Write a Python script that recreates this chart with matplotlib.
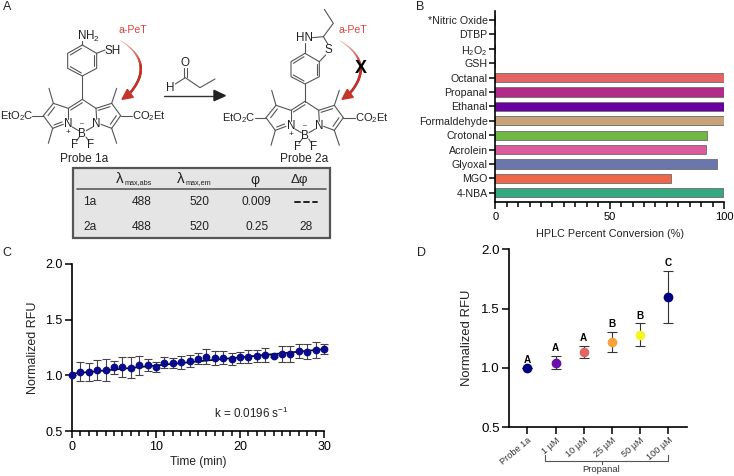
import numpy as np
import matplotlib
matplotlib.use('Agg')
import matplotlib.pyplot as plt
from matplotlib.patches import Polygon, Rectangle

plt.rcParams['font.family'] = ['Liberation Sans', 'DejaVu Sans']
plt.rcParams['mathtext.default'] = 'regular'

W, H = 734, 476

# panel B
analytes = ['*Nitric Oxide', 'DTBP', r'H$_2$O$_2$', 'GSH', 'Octanal', 'Propanal', 'Ethanal',
            'Formaldehyde', 'Crotonal', 'Acrolein', 'Glyoxal', 'MGO', '4-NBA']
conversion = [0, 0, 0, 0, 100, 100, 100, 100, 92.5, 92, 97, 77, 99.5]
bar_colors = ['k', 'k', 'k', 'k', '#e26464', '#b22a8a', '#6a009f', '#c9a377', '#6fb844',
              '#dd5a9e', '#6b76ad', '#ee6748', '#33a97f']

# panel C
time_min = list(range(31))
rfu_time = [1.0, 1.033, 1.033, 1.048, 1.048, 1.072, 1.075, 1.069, 1.09, 1.093, 1.078,
            1.114, 1.111, 1.117, 1.126, 1.15, 1.168, 1.156, 1.159, 1.147, 1.162,
            1.168, 1.177, 1.183, 1.171, 1.195, 1.192, 1.218, 1.213, 1.224, 1.24]
rfu_time_err = [0, .087, .08, .094, .095, .06, .093, .094, .084, .055, .046,
                .052, .048, .058, .054, .048, .07, .06, .057, .05, .05,
                .06, .055, .06, .01, .072, .07, .063, .068, .072, .045]
fit_x = [0, 30]
fit_y = [1.015, 1.235]

# panel D
dose_labels = ['Probe 1a', '1 µM', '10 µM', '25 µM', '50 µM', '100 µM']
rfu_dose = [1.0, 1.045, 1.135, 1.22, 1.28, 1.595]
rfu_dose_err = [0, .055, .05, .085, .095, .22]
dose_colors = ['#000080', '#6a0dad', '#e06666', '#f9a23c', '#f5f523', '#000080']
dose_letters = ['A', 'A', 'A', 'B', 'B', 'C']

# table in panel A
table_head = ['1a', '2a']
table_abs = ['488', '488']
table_em = ['520', '520']
table_phi = ['0.009', '0.25']
table_dphi = ['- - -', '28']

fig = plt.figure(figsize=(W / 100, H / 100), dpi=100)


def make_axes(x0, x1, y_top, y_bot):
    # pixel box -> figure fraction
    ax = fig.add_axes([x0 / W, 1 - y_bot / H, (x1 - x0) / W, (y_bot - y_top) / H])
    ax.patch.set_alpha(0)
    ax.spines['top'].set_visible(False)
    ax.spines['right'].set_visible(False)
    ax.spines['left'].set_linewidth(1.2)
    ax.spines['bottom'].set_linewidth(1.2)
    return ax


# panel B
axb = make_axes(495.3, 724, 11, 202)
axb.barh(range(len(analytes)), conversion, height=0.64, color=bar_colors, edgecolor='#777777', linewidth=0.7)
axb.set_xlim(0, 100)
axb.set_ylim(12.64, -0.62)
axb.set_yticks(range(len(analytes)))
axb.set_yticklabels(analytes, fontsize=7.7, color='#222222')
axb.set_xticks([0, 50, 100])
axb.set_xticks(range(0, 101, 5), minor=True)
axb.tick_params(axis='x', which='major', length=5, width=1.1, labelsize=8, pad=2)
axb.tick_params(axis='x', which='minor', length=3.5, width=1.1)
axb.tick_params(axis='y', length=4.5, width=1.1, pad=1)
axb.set_xlabel('HPLC Percent Conversion (%)', fontsize=7.8, labelpad=5, color='#222222')

# panel C
axc = make_axes(72, 324, 264, 431)
axc.plot(fit_x, fit_y, color='k', lw=1.2, zorder=2)
axc.errorbar(time_min, rfu_time, yerr=rfu_time_err, fmt='none', ecolor='#444444', elinewidth=0.8,
             capsize=2.6, capthick=0.8, zorder=3, clip_on=False)
axc.plot(time_min, rfu_time, 'o', color='#0a0a8c', ms=4.6, zorder=4, clip_on=False)
axc.set_xlim(0, 30)
axc.set_ylim(0.5, 2.0)
axc.set_xticks([0, 10, 20, 30])
axc.set_xticks(range(31), minor=True)
axc.set_yticks([0.5, 1.0, 1.5, 2.0])
axc.set_yticklabels(['0.5', '1.0', '1.5', '2.0'])
axc.tick_params(axis='both', which='major', length=5, width=1.1, labelsize=9, pad=2)
axc.tick_params(axis='x', which='minor', length=3.5, width=1.1)
axc.set_xlabel('Time (min)', fontsize=8.6, labelpad=2, color='#222222')
axc.set_ylabel('Normalized RFU', fontsize=9, labelpad=4, color='#222222')
axc.text(21.4, 0.66, 'k = 0.0196 s$^{-1}$', fontsize=8.4, ha='center', va='center', color='#222222')

# panel D
axd = make_axes(508.7, 687.3, 249.3, 427.3)
pos = list(range(len(dose_labels)))
for i in pos:
    axd.errorbar(pos[i], rfu_dose[i], yerr=rfu_dose_err[i], fmt='none', ecolor='#333333', elinewidth=0.8,
                 capsize=3.6, capthick=0.8, zorder=2)
    axd.plot(pos[i], rfu_dose[i], 'o', color=dose_colors[i], ms=6, zorder=3)
    axd.annotate(dose_letters[i], (pos[i], rfu_dose[i] + rfu_dose_err[i]), xytext=(0, 2),
                 textcoords='offset points', ha='center', va='bottom', fontsize=7.2, fontweight='bold')
axd.set_xlim(-0.66, 5.67)
axd.set_ylim(0.5, 2.0)
axd.set_xticks(pos)
axd.set_xticklabels(dose_labels, rotation=40, ha='right', rotation_mode='anchor', fontsize=6.6, color='#333333')
axd.set_yticks([0.5, 1.0, 1.5, 2.0])
axd.set_yticklabels(['0.5', '1.0', '1.5', '2.0'])
axd.tick_params(axis='x', length=5, width=1.1, pad=1)
axd.tick_params(axis='y', length=5, width=1.1, labelsize=9.6, pad=1.5)
axd.set_ylabel('Normalized RFU', fontsize=9.4, labelpad=6, color='#222222')

# overlay in pixels for the scheme, panel letters and bracket
ov = fig.add_axes([0, 0, 1, 1])
ov.set_xlim(0, W)
ov.set_ylim(H, 0)
ov.axis('off')
ov.patch.set_alpha(0)

for s, x, y in [('A', 7, 7), ('B', 420, 7), ('C', 7, 253), ('D', 421, 253)]:
    ov.text(x, y, s, fontsize=9, ha='center', va='center', color='#222222')

# bracket under the doses
ov.plot([545, 545, 667.5, 667.5], [455, 461, 461, 455], color='#555555', lw=0.8)
ov.plot([601.7, 601.7], [461, 464], color='#555555', lw=0.8)
ov.text(601.5, 470, 'Propanal', fontsize=6.8, ha='center', va='center', color='#333333')


# structures are read in the 3x zoom coordinates
def bond(pts, dx=0, dy=0, color='#555555', lw=0.8):
    xs = [(p[0] + dx) / 3 for p in pts]
    ys = [(p[1] + dy) / 3 for p in pts]
    ov.plot(xs, ys, color=color, lw=lw, solid_capstyle='round', zorder=3)


def label(x, y, s, dx=0, dy=0, size=8.4, color='#222222', **kw):
    ov.text((x + dx) / 3, (y + dy) / 3, s, fontsize=size, color=color, ha='center', va='center', zorder=4, **kw)


def core(dx, dy):
    segs = [
        [(205, 325), (160, 310)], [(160, 310), (130, 347)], [(130, 347), (158, 385)],
        [(158, 385), (190, 373)], [(205, 325), (205, 358)], [(160, 310), (147, 265)],
        [(158, 385), (145, 430)], [(130, 347), (97, 347)], [(247, 298), (205, 325)],
        [(247, 298), (288, 325)], [(288, 325), (335, 310)], [(335, 310), (362, 347)],
        [(362, 347), (335, 385)], [(335, 385), (303, 373)], [(288, 325), (290, 358)],
        [(335, 310), (350, 265)], [(335, 385), (350, 430)], [(362, 347), (397, 347)],
        [(217, 381), (236, 392)], [(278, 381), (259, 392)], [(238, 411), (229, 424)],
        [(258, 411), (267, 424)],
        # second lines of the double bonds
        [(212, 330), (247, 308)],
        [(295, 331), (330, 320)],
        [(164, 321), (144, 347)],
        [(162, 375), (186, 366)],
        [(349, 347), (331, 373)],
    ]
    for s in segs:
        bond(s, dx, dy)
    label(205, 372, 'N', dx, dy)
    label(290, 372, 'N', dx, dy)
    label(247, 402, 'B', dx, dy)
    label(247, 371, '–', dx, dy, size=5)
    label(205, 397, '+', dx, dy, size=6)
    label(224, 436, 'F', dx, dy)
    label(272, 436, 'F', dx, dy)
    label(49, 348, r'EtO$_2$C', dx, dy, size=8)
    label(447, 348, r'CO$_2$Et', dx, dy, size=8)


def arc_arrow(p0, p1, p2, head):
    # quadratic curve that goes from pale to strong red
    t = np.linspace(0, 1, 40)
    xs = (1 - t) ** 2 * p0[0] + 2 * t * (1 - t) * p1[0] + t ** 2 * p2[0]
    ys = (1 - t) ** 2 * p0[1] + 2 * t * (1 - t) * p1[1] + t ** 2 * p2[1]
    c0 = np.array([0.96, 0.75, 0.72])
    c1 = np.array([0.76, 0.19, 0.16])
    for i in range(39):
        f = min(1, i / 20)
        ov.plot(xs[i:i + 2] / 3, ys[i:i + 2] / 3, color=c0 + (c1 - c0) * f, lw=0.5 + 1.2 * f, zorder=3)
    ov.add_patch(Polygon([(a / 3, b / 3) for a, b in head], color='#c5352b', zorder=3))


core(0, 0)
core(668, 6)

# probe 1a phenyl
hexa = [(247, 135), (290, 160), (290, 205), (247, 228), (203, 205), (203, 160), (247, 135)]
bond(hexa)
bond([(283, 166), (283, 199)])
bond([(244, 219), (211, 200)])
bond([(211, 165), (244, 145)])
bond([(247, 228), (247, 298)])
bond([(247, 135), (247, 122)])
bond([(290, 160), (315, 150)])
label(267, 108, r'NH$_2$')
label(337, 152, 'SH')
label(251, 476, 'Probe 1a', size=8.6)
label(400, 91, 'a-PeT', color='#e0413a', size=7.6)
arc_arrow((362, 122), (470, 190), (385, 285), [(366, 298), (400, 292), (382, 268)])

# reaction arrow and propanal
bond([(493, 287), (645, 287)], color='#333333', lw=1.0)
ov.add_patch(Polygon([(642 / 3, 271 / 3), (676 / 3, 287 / 3), (642 / 3, 302 / 3)], color='#222222', zorder=3))
bond([(526, 252), (556, 233), (600, 263), (645, 237)])
bond([(551, 231), (551, 205)])
bond([(560, 231), (560, 205)])
label(556, 188, 'O')
label(512, 265, 'H')

# probe 2a benzothiazoline
hexa2 = [(915, 160), (958, 185), (958, 230), (915, 252), (873, 230), (873, 185), (915, 160)]
bond(hexa2)
bond([(951, 191), (951, 224)])
bond([(912, 243), (880, 225)])
bond([(880, 190), (912, 170)])
bond([(915, 252), (915, 306)])
bond([(915, 160), (915, 130)])
bond([(937, 113), (970, 110), (984, 133)])
bond([(977, 165), (958, 185)])
bond([(970, 110), (1000, 70), (973, 28)])
label(914, 115, 'HN')
label(985, 150, 'S')
label(912, 476, 'Probe 2a', size=8.6)
label(1060, 91, 'a-PeT', color='#e0413a', size=7.6)
arc_arrow((1020, 122), (1130, 190), (1045, 285), [(1026, 298), (1060, 292), (1042, 268)])
label(1082, 205, 'X', size=13, color='k', fontweight='bold')

# table
ov.add_patch(Rectangle((220 / 3, 505 / 3), 770 / 3, 208 / 3, facecolor='#e5e5e5', edgecolor='#555555', lw=1.6, zorder=1))
bond([(232, 567), (978, 567)], color='#666666', lw=1.3)
label(358, 538, 'λ', size=11)
label(414, 549, 'max,abs', size=5.2)
label(541, 538, 'λ', size=11)
label(596, 549, 'max,em', size=5.2)
label(766, 540, 'φ', size=10)
label(897, 540, 'Δφ', size=9.6)
for i, yy in enumerate([606, 681]):
    label(270, yy, table_head[i], size=8.6)
    label(424, yy, table_abs[i], size=8.6)
    label(598, yy, table_em[i], size=8.6)
    label(770, yy, table_phi[i], size=8.6)
    if table_dphi[i] == '- - -':
        bond([(886, yy), (900, yy)], color='#222222', lw=1.4)
        bond([(912, yy), (926, yy)], color='#222222', lw=1.4)
        bond([(938, yy), (952, yy)], color='#222222', lw=1.4)
    else:
        label(919, yy, table_dphi[i], size=8.6)

fig.savefig('out.png', dpi=100)
